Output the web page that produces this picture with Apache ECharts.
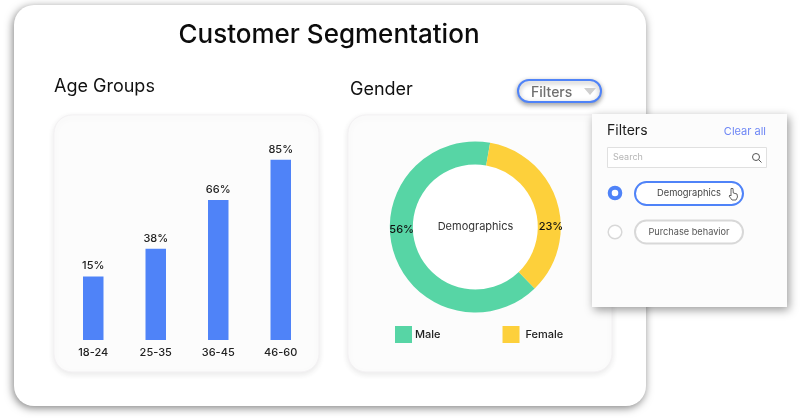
<!DOCTYPE html>
<html>
<head>
<meta charset="utf-8">
<style>
  html, body { margin: 0; padding: 0; background: #fff; }
  #chart { width: 800px; height: 418px; }
</style>
<script src="https://cdn.jsdelivr.net/npm/echarts@6/dist/echarts.min.js"></script>
</head>
<body>
<div id="chart"></div>
<script>
// bar heights and the printed labels do not agree in the picture, so both are kept
var ageGroups = ['18-24', '25-35', '36-45', '46-60'];
var ageBarValues = [30, 43, 66, 85];
var ageBarLabels = ['15%', '38%', '66%', '85%'];

var genderNames = ['Male', 'Female'];
var genderArcValues = [65, 35];
var genderLabels = ['56%', '23%'];

var filterOptions = ['Demographics', 'Purchase behavior'];

var FONT = 'Inter';
var BLUE = '#4f83f8';

var myChart = echarts.init(document.getElementById('chart'), null, { renderer: 'canvas' });

function txt(x, y, text, size, color, align, weight) {
  return {
    type: 'text', x: x, y: y, z: 20,
    style: {
      text: text, fontFamily: FONT, fontSize: size, fill: color,
      align: align || 'left', verticalAlign: 'middle', fontWeight: weight || 400
    }
  };
}

function box(x, y, w, h, r, fill, extra, z) {
  var style = { fill: fill };
  for (var k in extra) style[k] = extra[k];
  return { type: 'rect', z: z, shape: { x: x, y: y, width: w, height: h, r: r }, style: style };
}

var panelShadow = { shadowBlur: 6, shadowColor: 'rgba(0,0,0,0.09)', shadowOffsetY: 2, stroke: '#f3f1f3', lineWidth: 1 };

var decor = [
  // main card
  box(14, 5, 632, 401, 20, '#fff', { shadowBlur: 9, shadowColor: 'rgba(0,0,0,0.5)', shadowOffsetX: -1, shadowOffsetY: 2 }, 1),
  box(54, 115, 265, 257, 18, '#fcfcfc', panelShadow, 2),
  box(348, 115, 264, 257, 18, '#fcfcfc', panelShadow, 2),
  // white disc behind the donut hole
  { type: 'circle', z: 3, shape: { cx: 475.3, cy: 227, r: 63 }, style: { fill: '#fff' } },

  // filters button
  box(518, 80, 83, 22, 11, '#fff', { stroke: BLUE, lineWidth: 2, shadowBlur: 5, shadowColor: 'rgba(0,0,0,0.35)', shadowOffsetY: 2 }, 4),
  txt(531, 92.5, 'Filters', 14, '#6f6f6f', 'left', 500),
  { type: 'polygon', z: 20, shape: { points: [[584, 88], [596, 88], [590, 95]] }, style: { fill: '#cfcfcf' } },

  // filter popup
  box(592, 114, 195, 193, 0, '#fcfcfc', { shadowBlur: 9, shadowColor: 'rgba(0,0,0,0.4)', shadowOffsetX: 2, shadowOffsetY: 3 }, 10),
  txt(607, 131, 'Filters', 14, '#1c1c1c'),
  txt(766, 132, 'Clear all', 11, '#6d86f5', 'right'),
  box(607.5, 147.5, 159, 20, 0, '#fff', { stroke: '#e0e0e0', lineWidth: 1 }, 11),
  txt(613, 157, 'Search', 9, '#b5b5b5'),
  { type: 'circle', z: 20, shape: { cx: 756, cy: 157, r: 3.5 }, style: { fill: 'none', stroke: '#555', lineWidth: 1 } },
  { type: 'line', z: 20, shape: { x1: 758.6, y1: 159.6, x2: 761.5, y2: 162.5 }, style: { stroke: '#555', lineWidth: 1 } },

  { type: 'circle', z: 20, shape: { cx: 615, cy: 193, r: 5.3 }, style: { fill: '#fff', stroke: BLUE, lineWidth: 4 } },
  box(635, 182, 108, 23, 11.5, '#fff', { stroke: BLUE, lineWidth: 2 }, 11),
  txt(657, 193.5, filterOptions[0], 9.3, '#444'),
  // hand cursor
  { type: 'polygon', z: 20, shape: { points: [[731, 188.5], [733, 188.5], [733.3, 193], [737, 194], [737.5, 197], [736, 200], [732, 200], [729, 196], [730, 195], [731, 196]] }, style: { fill: '#fff', stroke: '#555', lineWidth: 0.9 } },

  { type: 'circle', z: 20, shape: { cx: 615, cy: 232, r: 6.8 }, style: { fill: '#fff', stroke: '#d8d8d8', lineWidth: 1.5 } },
  box(635, 220.5, 108, 23, 11.5, '#fff', { stroke: '#d8d8d8', lineWidth: 2 }, 11),
  txt(689, 232, filterOptions[1], 9.2, '#555', 'center')
];

var labelNudges = [{ dx: 0, dy: -20 }, { dx: 2, dy: 22 }];

var option = {
  animation: false,
  backgroundColor: '#fff',
  textStyle: { fontFamily: FONT },
  title: [
    { text: 'Customer Segmentation', left: 329, top: 35, padding: 0, textAlign: 'center', textVerticalAlign: 'middle',
      textStyle: { fontFamily: FONT, fontSize: 26, fontWeight: 500, color: '#0c0c0c' } },
    { text: 'Age Groups', left: 54, top: 87, padding: 0, textVerticalAlign: 'middle',
      textStyle: { fontFamily: FONT, fontSize: 18, fontWeight: 400, color: '#111' } },
    { text: 'Gender', left: 350, top: 90, padding: 0, textVerticalAlign: 'middle',
      textStyle: { fontFamily: FONT, fontSize: 18, fontWeight: 400, color: '#111' } },
    { text: 'Demographics', left: 475.5, top: 227, padding: 0, textAlign: 'center', textVerticalAlign: 'middle',
      textStyle: { fontFamily: FONT, fontSize: 11, fontWeight: 400, color: '#333' } }
  ],
  grid: { left: 62, top: 128, width: 250, height: 212, containLabel: false },
  xAxis: {
    type: 'category', data: ageGroups, z: 6,
    axisLine: { show: false }, axisTick: { show: false },
    axisLabel: { fontFamily: FONT, fontSize: 11, fontWeight: 500, color: '#222', margin: 7 }
  },
  yAxis: { type: 'value', min: 0, max: 100, show: false },
  legend: {
    data: genderNames, left: 395, top: 326, orient: 'horizontal', padding: 0, z: 6,
    icon: 'rect', itemWidth: 17, itemHeight: 17, itemGap: 62,
    formatter: function (n) { return n === 'Female' ? ' ' + n : n; },
    textStyle: { fontFamily: FONT, fontSize: 11, fontWeight: 500, color: '#222', padding: [1, 0, 0, -2] },
    selectedMode: false
  },
  series: [
    {
      type: 'bar', data: ageBarValues, barWidth: 20.5, z: 5,
      itemStyle: { color: BLUE },
      label: {
        show: true, position: 'top', distance: 5,
        fontFamily: FONT, fontSize: 11, fontWeight: 500, color: '#222',
        formatter: function (p) { return ageBarLabels[p.dataIndex]; }
      }
    },
    {
      type: 'pie', center: [475.3, 227], radius: [62.5, 85.5], startAngle: -46, z: 5,
      color: ['#57d5a5', '#fdd03b'],
      data: genderNames.map(function (n, i) { return { name: n, value: genderArcValues[i] }; }),
      itemStyle: { borderWidth: 0 },
      emphasis: { disabled: true },
      labelLine: { show: false },
      label: {
        show: true, position: 'inside',
        fontFamily: FONT, fontSize: 11, fontWeight: 500, color: '#111',
        formatter: function (p) { return genderLabels[p.dataIndex]; }
      },
      labelLayout: function (p) { return labelNudges[p.dataIndex]; }
    }
  ],
  graphic: { elements: decor }
};

myChart.setOption(option);
</script>
</body>
</html>
